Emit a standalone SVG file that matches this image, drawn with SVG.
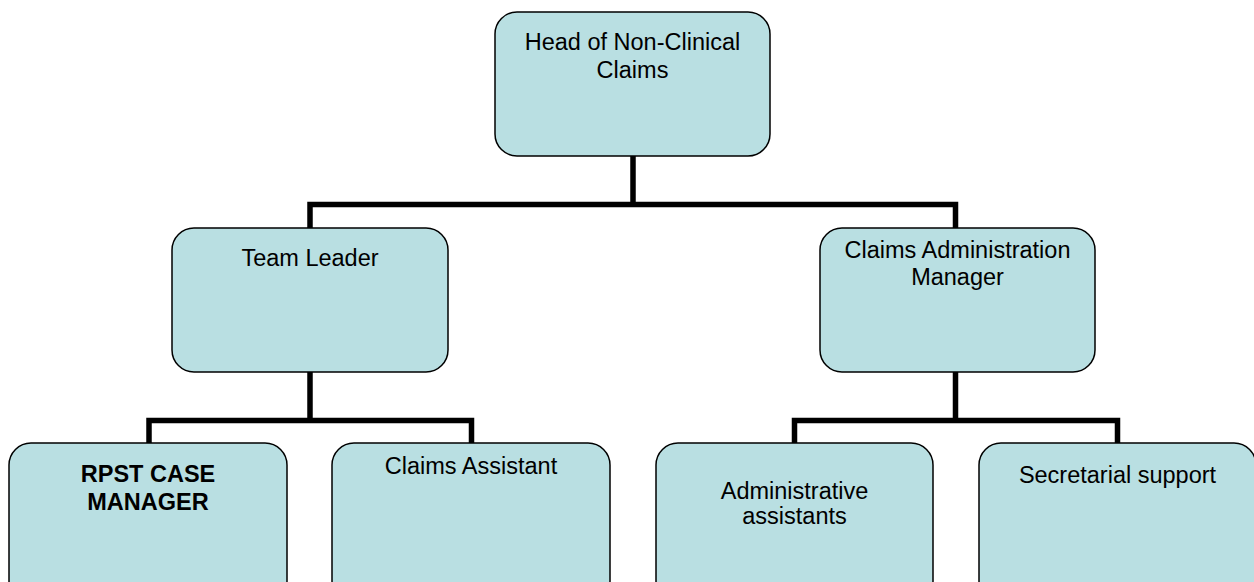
<svg xmlns="http://www.w3.org/2000/svg" width="1254" height="582" viewBox="0 0 1254 582">
<style>
.box{fill:#b9dfe2;stroke:#000;stroke-width:1.5}
.t{font-family:"Liberation Sans",Arial,sans-serif;font-size:23.5px;fill:#000;text-anchor:middle}
.b{font-weight:bold}
.c{fill:none;stroke:#000;stroke-width:5.5;stroke-linecap:butt;stroke-linejoin:miter}
</style>
<rect width="1254" height="582" fill="#fff"/>
<g id="connectors">
<path class="c" d="M633,156 V204.5 M310,228 V204.5 H955.5 V228"/>
<path class="c" d="M310,372 V420.5 M149,443 V420.5 H471.5 V443"/>
<path class="c" d="M955.5,372 V420.5 M794.5,443 V420.5 H1117.5 V443"/>
</g>
<g id="head">
<rect class="box" x="495" y="12" width="275" height="144" rx="22"/>
<text class="t" x="632.5" y="50">Head of Non-Clinical</text>
<text class="t" x="632.5" y="78">Claims</text>
</g>
<g id="team-leader">
<rect class="box" x="172" y="228" width="276" height="144" rx="22"/>
<text class="t" x="310" y="266">Team Leader</text>
</g>
<g id="claims-admin-manager">
<rect class="box" x="820" y="228" width="275" height="144" rx="22"/>
<text class="t" x="957.5" y="258">Claims Administration</text>
<text class="t" x="957.5" y="285">Manager</text>
</g>
<g id="rpst-case-manager">
<rect class="box" x="9" y="443" width="278" height="160" rx="22"/>
<text class="t b" x="148" y="482">RPST CASE</text>
<text class="t b" x="148" y="510">MANAGER</text>
</g>
<g id="claims-assistant">
<rect class="box" x="332" y="443" width="278" height="160" rx="22"/>
<text class="t" x="471" y="474">Claims Assistant</text>
</g>
<g id="administrative-assistants">
<rect class="box" x="656" y="443" width="277" height="160" rx="22"/>
<text class="t" x="794.5" y="499">Administrative</text>
<text class="t" x="794.5" y="524">assistants</text>
</g>
<g id="secretarial-support">
<rect class="box" x="979" y="443" width="277" height="160" rx="22"/>
<text class="t" x="1117.5" y="483">Secretarial support</text>
</g>
</svg>
